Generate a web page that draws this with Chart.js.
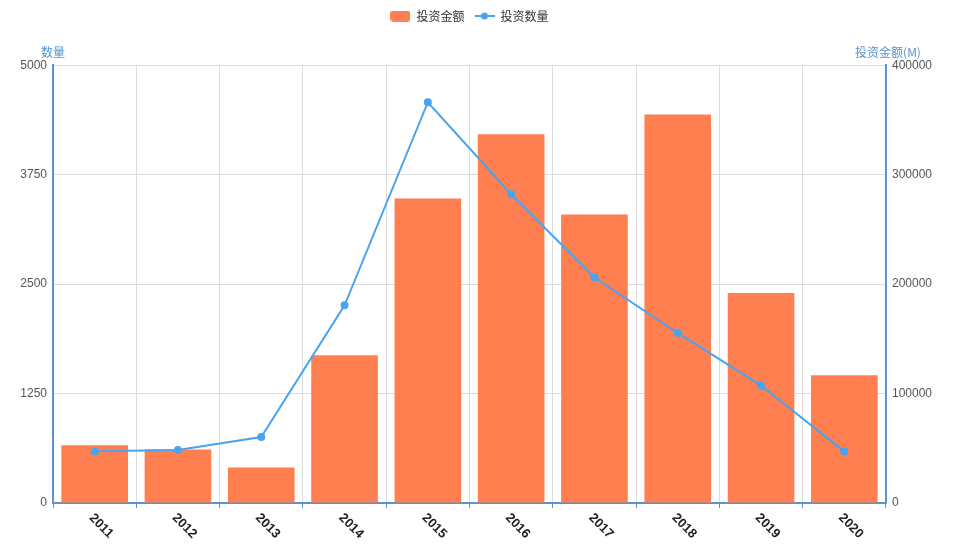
<!DOCTYPE html>
<html>
<head>
<meta charset="utf-8">
<script src="https://cdn.jsdelivr.net/npm/chart.js@4.4.1/dist/chart.umd.min.js"></script>
<style>
html,body{margin:0;padding:0;background:#fff;}
#wrap{width:956px;height:551px;position:relative;}
</style>
</head>
<body>
<div id="wrap"><canvas id="c"></canvas></div>
<script>
const categories = ['2011','2012','2013','2014','2015','2016','2017','2018','2019','2020'];
const amountValues = [52700, 48800, 32400, 135000, 278200, 337000, 263600, 355000, 191900, 116700];
const countValues = [591, 605, 754, 2258, 4577, 3526, 2575, 1942, 1341, 587];
const leftTicks = [0, 1250, 2500, 3750, 5000];
const rightTicks = [0, 100000, 200000, 300000, 400000];
const seriesNames = ['投资金额', '投资数量'];
const axisTitles = ['数量', '投资金额(M)'];

const BAR_COLOR = '#ff7f50';
const LINE_COLOR = '#4aa3ee';
const AXIS_COLOR = '#5a93cf';
const FONT = "'Noto Sans CJK SC', 'Noto Sans', sans-serif";
const NUM_FONT = "'Liberation Sans', Arial, sans-serif";

function makeBarIcon(){
  const c = document.createElement('canvas'); c.width = 20; c.height = 11;
  const g = c.getContext('2d'); g.fillStyle = BAR_COLOR;
  g.beginPath(); g.roundRect(0,0,20,11,3); g.fill(); return c;
}
function makeLineIcon(){
  const c = document.createElement('canvas'); c.width = 20; c.height = 12;
  const g = c.getContext('2d'); g.strokeStyle = LINE_COLOR; g.lineWidth = 2;
  g.beginPath(); g.moveTo(0,6); g.lineTo(20,6); g.stroke();
  g.fillStyle = LINE_COLOR; g.beginPath(); g.arc(10,6,3.5,0,Math.PI*2); g.fill(); return c;
}
const icons = [makeBarIcon(), makeLineIcon()];

const extrasPlugin = {
  id: 'extras',
  afterDraw(chart){
    const ctx = chart.ctx;
    const xs = chart.scales.x;
    const area = chart.chartArea;
    ctx.save();
    ctx.font = 'bold 13px ' + NUM_FONT;
    ctx.fillStyle = '#222';
    ctx.textAlign = 'center';
    ctx.textBaseline = 'middle';
    categories.forEach((lab, i) => {
      const x = xs.getPixelForValue(i);
      ctx.save();
      ctx.translate(x + 6.5, area.bottom + 23);
      ctx.rotate(Math.PI / 4);
      ctx.fillText(lab, 0, 0);
      ctx.restore();
    });
    ctx.font = '12px ' + FONT;
    ctx.fillStyle = AXIS_COLOR;
    ctx.textBaseline = 'alphabetic';
    ctx.fillText(axisTitles[0], area.left, area.top - 8);
    ctx.fillText(axisTitles[1], area.right + 2, area.top - 8);
    ctx.restore();
  }
};

new Chart(document.getElementById('c'), {
  type: 'bar',
  data: {
    labels: categories,
    datasets: [
      { label: seriesNames[0], data: amountValues, yAxisID: 'y1', backgroundColor: BAR_COLOR,
        barPercentage: 0.8, categoryPercentage: 1, order: 2 },
      { label: seriesNames[1], type: 'line', data: countValues, yAxisID: 'y', borderColor: LINE_COLOR,
        backgroundColor: LINE_COLOR, borderWidth: 2, pointRadius: 3, pointHoverRadius: 3, tension: 0, order: 1 }
    ]
  },
  options: {
    responsive: true, maintainAspectRatio: false, animation: false, devicePixelRatio: 1,
    layout: { padding: { left: 0, right: 0, top: 0, bottom: 0 } },
    plugins: {
      tooltip: { enabled: false },
      title: { display: true, text: ' ', weight: 500, padding: { top: 0, bottom: 8 }, font: { size: 21, lineHeight: 1.2 } },
      legend: {
        position: 'top', weight: 1000, fullSize: false,
        labels: {
          usePointStyle: true, pointStyleWidth: 20, padding: 10, color: '#333',
          font: { family: FONT, size: 12 },
          generateLabels(chart){
            return chart.data.datasets.map((ds, i) => ({
              text: ds.label, pointStyle: icons[i], datasetIndex: i, hidden: false,
              fontColor: '#333', lineWidth: 0, strokeStyle: 'transparent', fillStyle: 'transparent'
            }));
          }
        }
      }
    },
    scales: {
      x: {
        offset: true,
        grid: { offset: true, color: '#dcdcdc', tickColor: AXIS_COLOR, tickLength: 5, drawOnChartArea: true },
        border: { color: AXIS_COLOR, width: 2 },
        ticks: { display: false },
        afterFit(s){ s.height = 48; }
      },
      y: {
        position: 'left', min: 0, max: 5000,
        afterBuildTicks(s){ s.ticks = leftTicks.map(v => ({ value: v })); },
        ticks: { color: '#555', font: { family: NUM_FONT, size: 12 }, padding: 6, callback: v => String(v) },
        grid: { color: '#dcdcdc', drawTicks: false },
        border: { color: AXIS_COLOR, width: 2 },
        afterFit(s){ s.width = 53; }
      },
      y1: {
        position: 'right', min: 0, max: 400000,
        afterBuildTicks(s){ s.ticks = rightTicks.map(v => ({ value: v })); },
        ticks: { color: '#555', font: { family: NUM_FONT, size: 12 }, padding: 6, callback: v => String(v) },
        grid: { display: true, drawOnChartArea: false, drawTicks: false },
        border: { color: AXIS_COLOR, width: 2 },
        afterFit(s){ s.width = 70; }
      }
    }
  },
  plugins: [extrasPlugin]
});
</script>
</body>
</html>
